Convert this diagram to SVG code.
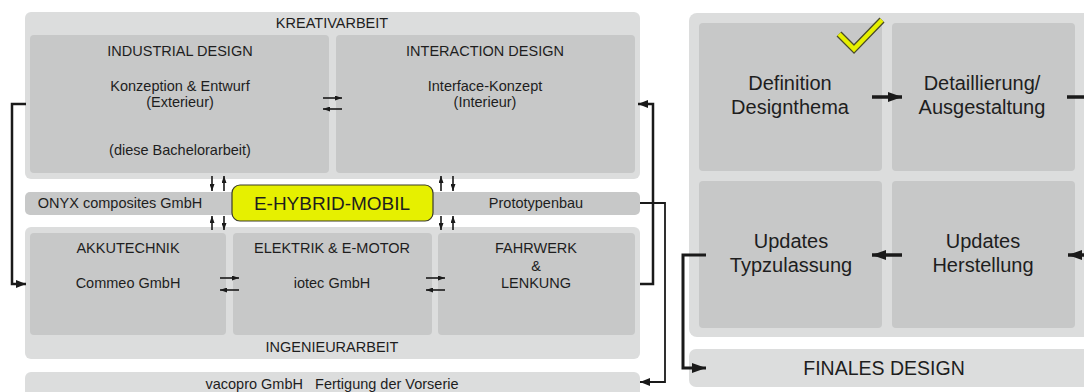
<svg xmlns="http://www.w3.org/2000/svg" width="1084" height="392" viewBox="0 0 1084 392">
<defs>
<style>
text{font-family:"Liberation Sans",Arial,sans-serif;fill:#1e1e1e;text-anchor:middle}
.outer{fill:#dcdddd}
.inner{fill:#c7c8c8}
.s{font-size:14.5px}
.l{font-size:20px}
.c{fill:none;stroke:#1a1a1a;stroke-width:2.5}
.f{fill:none;stroke:#1a1a1a;stroke-width:3.5}
.sm{fill:none;stroke:#1a1a1a;stroke-width:1.6}
</style>
<marker id="ah" markerUnits="userSpaceOnUse" markerWidth="10" markerHeight="8" refX="10" refY="4" orient="auto"><path d="M0,0 L10,4 L0,8 z" fill="#1a1a1a"/></marker>
<marker id="ahl" markerUnits="userSpaceOnUse" markerWidth="14" markerHeight="10" refX="14" refY="5" orient="auto"><path d="M0,0 L14,5 L0,10 z" fill="#1a1a1a"/></marker>
<marker id="sa" markerUnits="userSpaceOnUse" markerWidth="7" markerHeight="5" refX="7" refY="2.5" orient="auto"><path d="M0,0 L7,2.5 L0,5 z" fill="#1a1a1a"/></marker>
</defs>
<rect width="1084" height="392" fill="#ffffff"/>

<g id="kreativarbeit">
<rect class="outer" x="25" y="12" width="615" height="167" rx="6"/>
<text class="s" x="332" y="28">KREATIVARBEIT</text>
</g>
<g id="industrial-design">
<rect class="inner" x="30" y="35" width="299" height="138" rx="4"/>
<text class="s" x="180" y="56">INDUSTRIAL DESIGN</text>
<text class="s" x="180" y="91">Konzeption &amp; Entwurf</text>
<text class="s" x="180" y="107">(Exterieur)</text>
<text class="s" x="180" y="155">(diese Bachelorarbeit)</text>
</g>
<g id="interaction-design">
<rect class="inner" x="336" y="35" width="299" height="138" rx="4"/>
<text class="s" x="485" y="56">INTERACTION DESIGN</text>
<text class="s" x="485" y="91">Interface-Konzept</text>
<text class="s" x="485" y="107">(Interieur)</text>
</g>

<g id="band-partners">
<rect class="inner" x="25" y="192" width="615" height="23" rx="5"/>
<text class="s" x="120" y="208">ONYX composites GmbH</text>
<text class="s" x="536" y="208">Prototypenbau</text>
</g>
<g id="e-hybrid-mobil">
<rect x="232" y="185" width="201" height="36" rx="8" fill="#e6f000" stroke="#3a3a2a" stroke-width="1.2"/>
<text x="332" y="209.5" style="font-size:19px" fill="#1a1a1a">E-HYBRID-MOBIL</text>
</g>

<g id="ingenieurarbeit">
<rect class="outer" x="25" y="227" width="615" height="132" rx="6"/>
<text class="s" x="332" y="352">INGENIEURARBEIT</text>
</g>
<g id="akkutechnik">
<rect class="inner" x="30" y="233" width="196" height="102" rx="4"/>
<text class="s" x="128" y="253">AKKUTECHNIK</text>
<text class="s" x="128" y="288">Commeo GmbH</text>
</g>
<g id="elektrik">
<rect class="inner" x="233" y="233" width="199" height="102" rx="4"/>
<text class="s" x="332" y="253">ELEKTRIK &amp; E-MOTOR</text>
<text class="s" x="332" y="288">iotec GmbH</text>
</g>
<g id="fahrwerk">
<rect class="inner" x="438" y="233" width="197" height="102" rx="4"/>
<text class="s" x="536" y="253">FAHRWERK</text>
<text class="s" x="536" y="271">&amp;</text>
<text class="s" x="536" y="288">LENKUNG</text>
</g>

<g id="vacopro">
<rect class="outer" x="25" y="372" width="615" height="30" rx="6"/>
<text class="s" x="332" y="389" xml:space="preserve">vacopro GmbH   Fertigung der Vorserie</text>
</g>

<g id="design-process">
<rect class="outer" x="689" y="13" width="410" height="324" rx="8"/>
</g>
<g id="definition">
<rect class="inner" x="699" y="23" width="183" height="148" rx="4"/>
<text class="l" x="790" y="90">Definition</text>
<text class="l" x="790" y="114">Designthema</text>
</g>
<g id="detaillierung">
<rect class="inner" x="892" y="23" width="183" height="148" rx="4"/>
<text class="l" x="982" y="90">Detaillierung/</text>
<text class="l" x="982" y="114">Ausgestaltung</text>
</g>
<g id="typzulassung">
<rect class="inner" x="699" y="181" width="183" height="147" rx="4"/>
<text class="l" x="791" y="248">Updates</text>
<text class="l" x="791" y="272">Typzulassung</text>
</g>
<g id="herstellung">
<rect class="inner" x="892" y="181" width="183" height="147" rx="4"/>
<text class="l" x="983" y="248">Updates</text>
<text class="l" x="983" y="272">Herstellung</text>
</g>
<g id="finales-design">
<rect class="outer" x="689" y="349" width="410" height="38" rx="7"/>
<text x="884" y="375" style="font-size:19.5px">FINALES DESIGN</text>
</g>
<g id="checkmark">
<path d="M839,34 L854,49 L882,20" fill="none" stroke="#4a4a2a" stroke-width="7" stroke-linejoin="miter"/>
<path d="M839,34 L854,49 L882,20" fill="none" stroke="#e6f000" stroke-width="4.4" stroke-linejoin="miter"/>
</g>

<g id="connectors">
<path class="c" d="M26,104 H12 V284 H26" marker-end="url(#ah)"/>
<path class="c" d="M640,284 H653 V104 H638" marker-end="url(#ah)"/>
<path class="c" d="M640,203 H665 V382 H640" marker-end="url(#ah)" style="stroke-width:1.8"/>
<path class="sm" d="M323,98 H342" marker-end="url(#sa)"/>
<path class="sm" d="M342,109 H323" marker-end="url(#sa)"/>
<path class="sm" d="M220,278 H239" marker-end="url(#sa)"/>
<path class="sm" d="M239,290 H220" marker-end="url(#sa)"/>
<path class="sm" d="M426,278 H445" marker-end="url(#sa)"/>
<path class="sm" d="M445,290 H426" marker-end="url(#sa)"/>
<path class="sm" d="M212,176 V191" marker-end="url(#sa)"/>
<path class="sm" d="M224,191 V176" marker-end="url(#sa)"/>
<path class="sm" d="M212,230 V216" marker-end="url(#sa)"/>
<path class="sm" d="M224,216 V230" marker-end="url(#sa)"/>
<path class="sm" d="M441,191 V176" marker-end="url(#sa)"/>
<path class="sm" d="M453,176 V191" marker-end="url(#sa)"/>
<path class="sm" d="M441,216 V230" marker-end="url(#sa)"/>
<path class="sm" d="M453,230 V216" marker-end="url(#sa)"/>
<path class="f" d="M872,97 H902" marker-end="url(#ahl)"/>
<path class="f" d="M1067,97 H1090"/>
<path class="f" d="M1092,255 H1068" marker-end="url(#ahl)"/>
<path class="f" d="M902,255 H872" marker-end="url(#ahl)"/>
<path class="c" d="M706,255 H683 V368 H706" marker-end="url(#ahl)" style="stroke-width:3"/>
</g>
</svg>
